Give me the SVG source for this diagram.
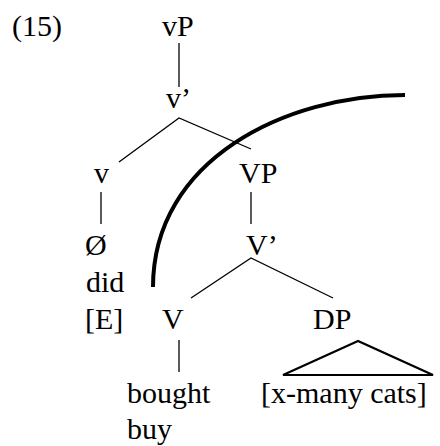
<svg xmlns="http://www.w3.org/2000/svg" width="440" height="446" viewBox="0 0 440 446">
<style>
text{font-family:"Liberation Serif",Tinos,"Times New Roman","DejaVu Serif",serif;font-size:30px;fill:#000}
.e{stroke:#000;stroke-width:1.3;fill:none}
.tri{stroke:#000;stroke-width:2.2;fill:none;stroke-linejoin:miter}
.arc{stroke:#000;stroke-width:4;fill:none}
</style>
<rect width="440" height="446" fill="#fff"/>
<text x="12" y="36" font-family="Liberation Serif, serif">(15)</text>
<g id="vP"><text x="162" y="36">vP</text></g>
<g id="vbar"><text x="166" y="108">v’</text></g>
<g id="v"><text x="94" y="183">v</text></g>
<g id="VP"><text x="239" y="183">VP</text></g>
<g id="null"><text x="85" y="255">Ø</text><text x="86" y="292">did</text><text x="85" y="329">[E]</text></g>
<g id="Vbar"><text x="246" y="255">V’</text></g>
<g id="V"><text x="162" y="329">V</text></g>
<g id="DP"><text x="313" y="329">DP</text></g>
<g id="bought"><text x="127" y="403">bought</text><text x="127" y="439">buy</text></g>
<g id="xmany"><text x="261" y="403">[x-many cats]</text></g>
<g id="connectors">
<line class="e" x1="179" y1="43" x2="179" y2="87"/>
<polyline class="e" points="119,162 179,118 251,149"/>
<line class="e" x1="101" y1="192" x2="101" y2="224"/>
<line class="e" x1="251" y1="192" x2="251" y2="224"/>
<polyline class="e" points="191,298 251,258 333,298"/>
<line class="e" x1="179" y1="340" x2="179" y2="372"/>
<polygon class="tri" points="358,341 283,375 433,375"/>
<path class="arc" d="M153,287 C153,160 285,95 405,95"/>
</g>
</svg>
